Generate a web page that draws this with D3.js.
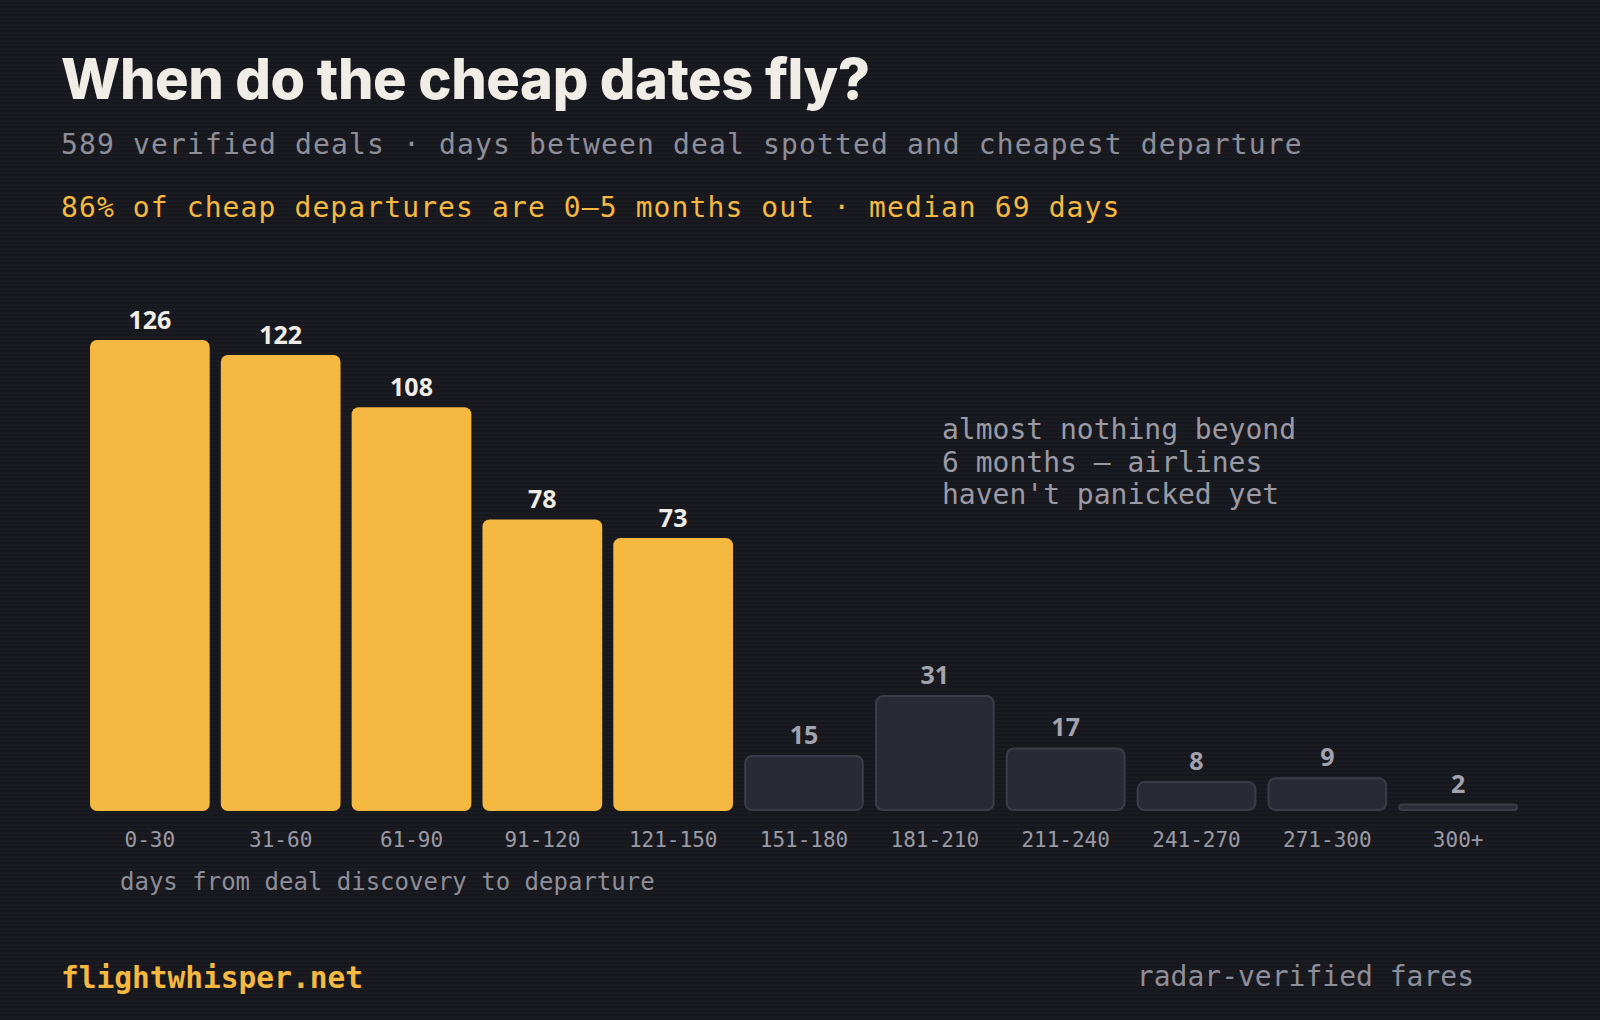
<!DOCTYPE html>
<html><head><meta charset="utf-8">
<script src="https://cdn.jsdelivr.net/npm/d3@7"></script>
<style>html,body{margin:0;padding:0;background:#17181d;}svg{display:block;}</style>
</head><body>
<svg id="chart" width="1600" height="1020"></svg>
<script>
const categories = ["0-30","31-60","61-90","91-120","121-150","151-180","181-210","211-240","241-270","271-300","300+"];
const counts = [126,122,108,78,73,15,31,17,8,9,2];
const highlighted = [true,true,true,true,true,false,false,false,false,false,false];

const titleText = "When do the cheap dates fly?";
const subtitleText = "589 verified deals · days between deal spotted and cheapest departure";
const highlightText = "86% of cheap departures are 0–5 months out · median 69 days";
const annotationLines = ["almost nothing beyond","6 months — airlines","haven't panicked yet"];
const axisTitle = "days from deal discovery to departure";
const footerLeft = "flightwhisper.net";
const footerRight = "radar-verified fares";

const W = 1600, H = 1020;
const mono = "'DejaVu Sans Mono', 'Liberation Mono', monospace";
const svg = d3.select("#chart");

const defs = svg.append("defs");
const pat = defs.append("pattern").attr("id","scan").attr("width",4).attr("height",4).attr("patternUnits","userSpaceOnUse");
pat.append("rect").attr("width",4).attr("height",4).attr("fill","#17181d");
pat.append("rect").attr("width",4).attr("height",2).attr("y",0).attr("fill","#1a1b20");
svg.append("rect").attr("width",W).attr("height",H).attr("fill","url(#scan)");

// Title block
svg.append("text").attr("x",61).attr("y",99)
  .attr("font-family","Inter, 'Noto Sans', sans-serif").attr("font-weight",800)
  .attr("font-size",56).attr("letter-spacing",-0.4).attr("fill","#f0ede6").text(titleText);
svg.append("text").attr("x",61).attr("y",154)
  .attr("font-family",mono).attr("font-size",28).attr("letter-spacing",1.14)
  .attr("fill","#8e8e99").text(subtitleText);
svg.append("text").attr("x",61).attr("y",217)
  .attr("font-family",mono).attr("font-size",28).attr("letter-spacing",1.1)
  .attr("fill","#f5b841").text(highlightText);

// Scales
const x = d3.scaleBand().domain(categories).range([90,1518]).paddingInner(0.085).paddingOuter(0);
const y = d3.scaleLinear().domain([0,126]).range([811,340]);

const data = categories.map((c,i)=>({c, v:counts[i], hi:highlighted[i]}));
const g = svg.append("g");

g.selectAll("rect.bar").data(data).join("rect")
  .attr("class","bar")
  .attr("x",d=> d.hi ? x(d.c) : x(d.c)+1)
  .attr("width",d=> d.hi ? x.bandwidth() : x.bandwidth()-2)
  .attr("y",d=> d.hi ? y(d.v) : y(d.v)+1)
  .attr("height",d=> d.hi ? y(0)-y(d.v) : Math.max(0,y(0)-y(d.v)-2))
  .attr("rx",d=> d.hi ? 7 : Math.min(7,(y(0)-y(d.v)-2)/2))
  .attr("fill",d=> d.hi ? "#f5b841" : "#292b34")
  .attr("stroke",d=> d.hi ? "none" : "#3a3c47")
  .attr("stroke-width",2);

g.selectAll("text.val").data(data).join("text")
  .attr("class","val")
  .attr("x",d=>x(d.c)+x.bandwidth()/2)
  .attr("y",d=>y(d.v)-11)
  .attr("text-anchor","middle")
  .attr("font-family","'Noto Sans', 'Open Sans', sans-serif").attr("font-weight",700)
  .attr("font-size",25)
  .attr("fill",d=> d.hi ? "#f0ede6" : "#a3a3ae")
  .text(d=>d.v);

// Axis labels via d3 axis
const axis = d3.axisBottom(x).tickSize(0).tickPadding(0);
const ax = svg.append("g").attr("transform","translate(0,832)").call(axis);
ax.select(".domain").remove();
ax.selectAll("text").attr("font-family",mono).attr("font-size",21).attr("fill","#9a9aa5").attr("dy","0.71em");

svg.append("text").attr("x",120).attr("y",890)
  .attr("font-family",mono).attr("font-size",24).attr("fill","#8e8e99").text(axisTitle);

// Annotation
const ann = svg.append("text").attr("font-family",mono).attr("font-size",28).attr("fill","#9a9aa5");
annotationLines.forEach((l,i)=>{
  ann.append("tspan").attr("x",942).attr("y",439+i*32.5).text(l);
});

// Footer
svg.append("text").attr("x",61).attr("y",988)
  .attr("font-family",mono).attr("font-weight",700).attr("font-size",29.5)
  .attr("fill","#f5b841").text(footerLeft);
svg.append("text").attr("x",1474).attr("y",986).attr("text-anchor","end")
  .attr("font-family",mono).attr("font-size",28).attr("fill","#8e8e99").text(footerRight);
</script>
</body></html>
